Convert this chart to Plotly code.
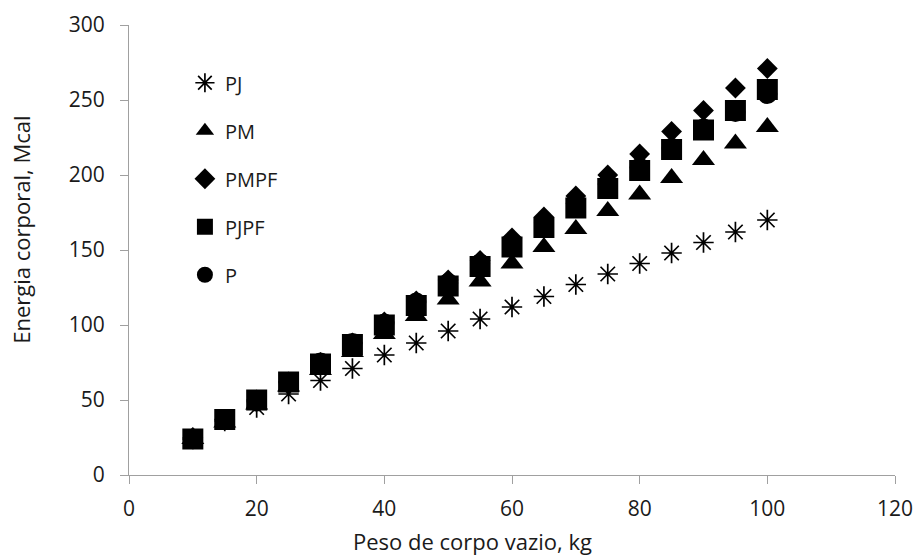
import plotly.graph_objects as go

x_kg = [10, 15, 20, 25, 30, 35, 40, 45, 50, 55, 60, 65, 70, 75, 80, 85, 90, 95, 100]
pj = [24, 36, 45, 54, 63, 71, 80, 88, 96, 104, 112, 119, 127, 134, 141, 148, 155, 162, 170]
pm = [24, 35, 47, 59, 70, 82, 94, 106, 117, 129, 141, 152, 164, 176, 187, 198, 210, 221, 232]
pmpf = [25, 37, 50, 62, 75, 88, 102, 116, 130, 143, 158, 172, 186, 200, 214, 229, 243, 258, 271]
pjpf = [24, 37, 50, 62, 74, 87, 100, 113, 126, 139, 152, 165, 178, 191, 203, 217, 230, 243, 257]
p = [24, 37, 49, 62, 75, 88, 101, 115, 128, 141, 155, 168, 181, 194, 205, 218, 231, 242, 254]

x_title = "Peso de corpo vazio, kg"
y_title = "Energia corporal, Mcal"

series = [
    ("PJ", pj, dict(symbol="asterisk-open", size=17, color="black", line=dict(color="black", width=1.7))),
    ("PM", pm, dict(symbol="triangle-up", size=20, color="black")),
    ("PMPF", pmpf, dict(symbol="diamond", size=16, color="black")),
    ("PJPF", pjpf, dict(symbol="square", size=21, color="black")),
    ("P", p, dict(symbol="circle", size=20, color="black")),
]

fig = go.Figure()
for name, ys, mk in series:
    fig.add_trace(go.Scatter(x=x_kg, y=ys, mode="markers", name=name, marker=mk,
                             legendgroup=name))

axis_common = dict(showgrid=False, zeroline=False, showline=True, linecolor="#a0a0a0",
                   linewidth=1.2, ticks="outside", tickcolor="#a0a0a0", ticklen=8, tickwidth=1.2,
                   tickfont=dict(size=21, color="#1a1a1a"), mirror=False, automargin=False)

fig.update_layout(
    width=917, height=555,
    margin=dict(l=129, r=22, t=25, b=80),
    paper_bgcolor="white", plot_bgcolor="white",
    font=dict(family="Open Sans", size=20, color="#1a1a1a"),
    xaxis=dict(range=[0, 120], dtick=20, ticklabelstandoff=7, **axis_common),
    yaxis=dict(range=[0, 300], dtick=50, ticklabelstandoff=11, **axis_common),
    legend=dict(x=0.073, y=0.915, xanchor="left", yanchor="top", bgcolor="rgba(0,0,0,0)",
                font=dict(size=20, color="#1a1a1a"), tracegroupgap=19, itemwidth=30),
    showlegend=True,
    annotations=[
        dict(text=x_title, xref="paper", yref="paper", x=0.448, y=-0.147,
             xanchor="center", yanchor="middle", showarrow=False, font=dict(size=22)),
        dict(text=y_title, xref="paper", yref="paper", x=-0.141, y=0.545, textangle=-90,
             xanchor="center", yanchor="middle", showarrow=False, font=dict(size=22)),
    ],
)

fig.write_html("out.html", config={"displayModeBar": False},
               post_script="document.body.style.margin='0px';")
